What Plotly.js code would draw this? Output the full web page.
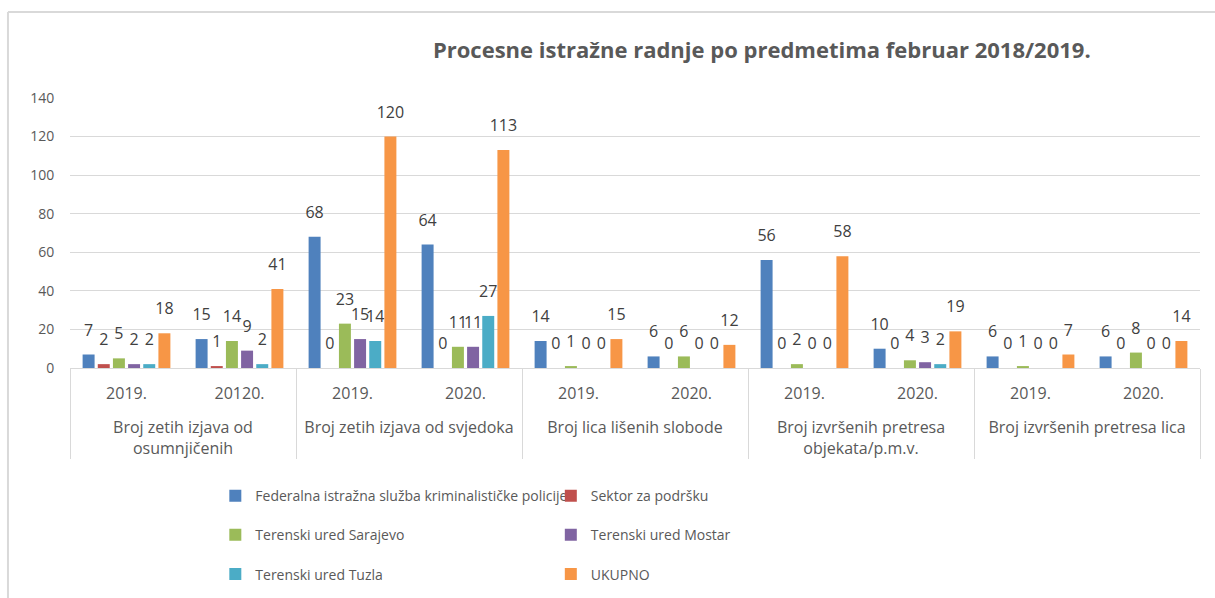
<!DOCTYPE html>
<html>
<head>
<meta charset="utf-8">
<script src="https://cdn.plot.ly/plotly-3.0.1.min.js"></script>
<style>html,body{margin:0;padding:0;background:#fff;}#chart{width:1215px;height:598px;}</style>
</head>
<body>
<div id="chart"></div>
<script>
const groups = [
  "Broj zetih izjava od<br>osumnjičenih", "Broj zetih izjava od<br>osumnjičenih",
  "Broj zetih izjava od svjedoka", "Broj zetih izjava od svjedoka",
  "Broj lica lišenih slobode", "Broj lica lišenih slobode",
  "Broj izvršenih pretresa<br>objekata/p.m.v.", "Broj izvršenih pretresa<br>objekata/p.m.v.",
  "Broj izvršenih pretresa lica", "Broj izvršenih pretresa lica"
];
const years = ["2019.", "20120.", "2019.", "2020.", "2019.", "2020.", "2019.", "2020.", "2019.", "2020."];

const seriesNames = [
  "Federalna istražna služba kriminalističke policije",
  "Sektor za podršku",
  "Terenski ured Sarajevo",
  "Terenski ured Mostar",
  "Terenski ured Tuzla",
  "UKUPNO"
];
const fedValues      = [7, 15, 68, 64, 14, 6, 56, 10, 6, 6];
const sektorValues   = [2, 1, 0, 0, 0, 0, 0, 0, 0, 0];
const sarajevoValues = [5, 14, 23, 11, 1, 6, 2, 4, 1, 8];
const mostarValues   = [2, 9, 15, 11, 0, 0, 0, 3, 0, 0];
const tuzlaValues    = [2, 2, 14, 27, 0, 0, 0, 2, 0, 0];
const ukupnoValues   = [18, 41, 120, 113, 15, 12, 58, 19, 7, 14];

const colors = ["#4F81BD", "#C0504D", "#9BBB59", "#8064A2", "#4BACC6", "#F79646"];
const allValues = [fedValues, sektorValues, sarajevoValues, mostarValues, tuzlaValues, ukupnoValues];
const legendOf = ["legend", "legend2", "legend", "legend2", "legend", "legend2"];

// year labels get an empty second line so the group labels sit lower, as in the reference
const yearLabels = years.map(y => y + "<br> ");

const traces = allValues.map((vals, i) => ({
  type: "bar",
  name: seriesNames[i],
  x: [groups, yearLabels],
  y: vals,
  marker: {color: colors[i]},
  text: vals.map(v => "<span style='font-size:16px'>" + String(v) + "</span><br> "),
  textposition: "outside",
  textfont: {family: "Open Sans, sans-serif", size: 10, color: "#404040"},
  constraintext: "none",
  cliponaxis: false,
  legend: legendOf[i],
  legendgroup: "g" + i,
  hoverinfo: "y"
}));

const layout = {
  width: 1215,
  height: 598,
  margin: {l: 70, r: 15, t: 98, b: 230, autoexpand: false},
  paper_bgcolor: "#ffffff",
  plot_bgcolor: "#ffffff",
  font: {family: "Open Sans, sans-serif", color: "#595959"},
  title: {
    text: "<b>Procesne istražne radnje po predmetima februar 2018/2019.</b>",
    font: {family: "Open Sans, sans-serif", size: 22, color: "#595959"},
    x: 0.627, xanchor: "center", xref: "container",
    y: 0.916, yanchor: "middle", yref: "container"
  },
  barmode: "group",
  bargap: 0.195,
  bargroupgap: 0.21,
  xaxis: {
    type: "multicategory",
    automargin: false,
    showline: true,
    linecolor: "#d9d9d9",
    linewidth: 1,
    showdividers: true,
    dividercolor: "#d9d9d9",
    dividerwidth: 1,
    ticks: "",
    ticklabelstandoff: 11,
    tickfont: {size: 16, color: "#595959"},
    showgrid: false
  },
  yaxis: {
    automargin: false,
    range: [0, 140],
    dtick: 20,
    tick0: 0,
    showgrid: true,
    gridcolor: "#d9d9d9",
    gridwidth: 1,
    zeroline: false,
    showline: false,
    ticks: "outside",
    ticklen: 12,
    tickcolor: "rgba(0,0,0,0)",
    tickfont: {size: 14, color: "#595959"}
  },
  showlegend: true,
  legend: {
    x: 0.1286, xanchor: "left",
    y: -0.415, yanchor: "top",
    orientation: "v",
    traceorder: "grouped",
    tracegroupgap: 18,
    font: {size: 14, color: "#595959"},
    bgcolor: "rgba(0,0,0,0)"
  },
  legend2: {
    x: 0.4255, xanchor: "left",
    y: -0.415, yanchor: "top",
    orientation: "v",
    traceorder: "grouped",
    tracegroupgap: 18,
    font: {size: 14, color: "#595959"},
    bgcolor: "rgba(0,0,0,0)"
  },
  shapes: [
    {type: "line", xref: "paper", yref: "paper", x0: -0.0549, x1: 1.02, y0: 1.3185, y1: 1.3185,
     line: {color: "#d9d9d9", width: 2}},
    {type: "line", xref: "paper", yref: "paper", x0: -0.0549, x1: -0.0549, y0: 1.3185, y1: -0.86,
     line: {color: "#d9d9d9", width: 2}}
  ]
};

Plotly.newPlot("chart", traces, layout, {displayModeBar: false, staticPlot: true});
</script>
</body>
</html>
